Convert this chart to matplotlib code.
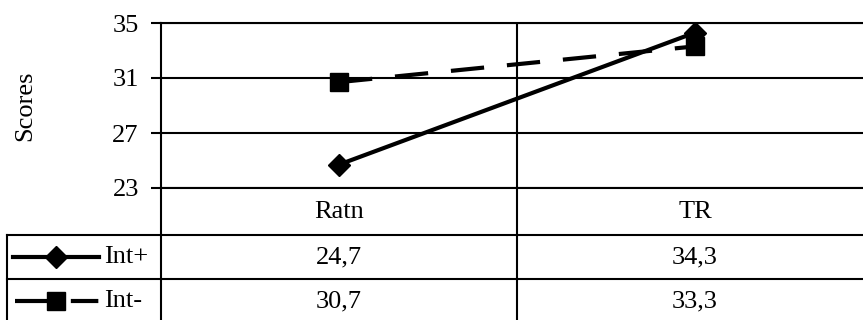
import numpy as np
import matplotlib
matplotlib.use("Agg")
import matplotlib.pyplot as plt
from matplotlib.lines import Line2D

categories = ["Ratn", "TR"]
series_names = ["Int+", "Int-"]
int_plus = [24.7, 34.3]
int_minus = [30.7, 33.3]
y_ticks = [23, 27, 31, 35]

plt.rcParams["font.family"] = ["Liberation Serif", "DejaVu Serif"]
FS = 19

W, H = 863, 320
fig = plt.figure(figsize=(W / 100, H / 100), dpi=100)


def fx(x):
    return x / W


def fy(y):
    return 1 - y / H


# plot area (right part is cropped off the figure, like the original)
left, top, bottom, cat_w = 161, 23, 188, 356
ax = fig.add_axes([fx(left), fy(bottom), fx(2 * cat_w), (bottom - top) / H])
x = np.arange(len(categories)) + 0.5

ax.plot(x, int_plus, color="black", lw=3, marker="D", ms=11, zorder=3)
ax.plot(x, int_minus, color="black", lw=3, ls=(0, (8, 5.5)), marker="s",
        ms=13, zorder=3)

ax.set_xlim(0, len(categories))
ax.set_ylim(y_ticks[0], y_ticks[-1])
ax.set_yticks(y_ticks)
ax.set_xticks([])
ax.tick_params(axis="y", length=7, width=1.5, pad=9, labelsize=FS)
ax.grid(axis="y", color="black", lw=1.5)
for xv in range(1, len(categories)):
    ax.axvline(xv, color="black", lw=1.5)
for s in ax.spines.values():
    s.set_linewidth(1.5)
ax.spines["bottom"].set_visible(False)
ax.set_ylabel("Scores", fontsize=FS, labelpad=55)

# data table under the plot
rows_y = [188, 235, 279, 323]
tbl_left = 7
right = left + 2 * cat_w


def hline(y, x0, x1):
    fig.add_artist(Line2D([fx(x0), fx(x1)], [fy(y), fy(y)], color="black",
                          lw=1.5, clip_on=False))


def vline(x, y0, y1):
    fig.add_artist(Line2D([fx(x), fx(x)], [fy(y0), fy(y1)], color="black",
                          lw=1.5, clip_on=False))


hline(188, left, right)
for y in rows_y[1:]:
    hline(y, tbl_left, right)
vline(tbl_left, rows_y[1], rows_y[-1])
vline(left, bottom, rows_y[-1])
for i in range(1, len(categories) + 1):
    vline(left + i * cat_w, bottom, rows_y[-1])

for i, c in enumerate(categories):
    cx = left + (i + 0.5) * cat_w
    fig.text(fx(cx), fy((rows_y[0] + rows_y[1]) / 2), c, ha="center",
             va="center", fontsize=FS)
    for r, vals in enumerate([int_plus, int_minus]):
        cy = (rows_y[r + 1] + rows_y[r + 2]) / 2
        fig.text(fx(cx), fy(cy), f"{vals[i]:.1f}".replace(".", ","),
                 ha="center", va="center", fontsize=FS)

# legend keys in the first column
keys = [dict(x0=13, ls="-", marker="D", ms=11),
        dict(x0=15, ls=(0, (11, 2.4, 6.6, 10)), marker="s", ms=13)]
for r, name in enumerate(series_names):
    cy = (rows_y[r + 1] + rows_y[r + 2]) / 2
    fig.add_artist(Line2D([fx(keys[r]["x0"]), fx(99)], [fy(cy), fy(cy)],
                          color="black", lw=3, ls=keys[r]["ls"]))
    fig.add_artist(Line2D([fx(56)], [fy(cy)], color="black",
                          marker=keys[r]["marker"], ms=keys[r]["ms"], lw=0))
    fig.text(fx(104), fy(cy), name, ha="left", va="center", fontsize=FS)

fig.savefig("out.png", dpi=100)
